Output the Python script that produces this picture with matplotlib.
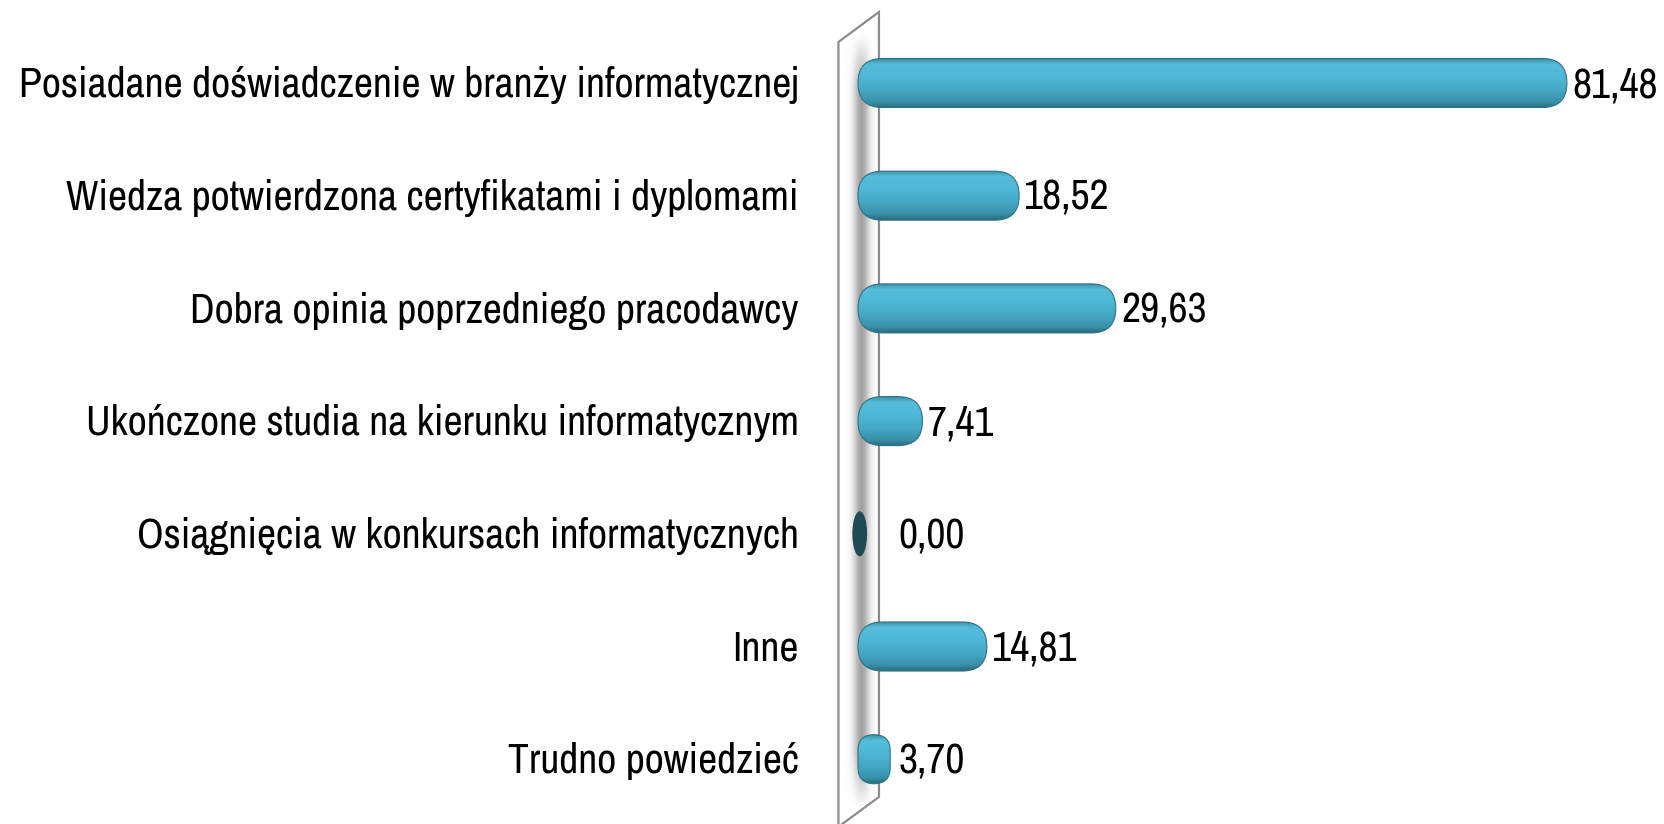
import matplotlib
matplotlib.use("Agg")
import matplotlib.pyplot as plt
import numpy as np
from matplotlib.patches import FancyBboxPatch, Ellipse, Polygon
from matplotlib.colors import LinearSegmentedColormap

plt.rcParams['font.family'] = ['Archivo Narrow', 'Roboto Condensed', 'DejaVu Sans']

# dane
kategorie = ["Posiadane doświadczenie w branży informatycznej",
             "Wiedza potwierdzona certyfikatami i dyplomami",
             "Dobra opinia poprzedniego pracodawcy",
             "Ukończone studia na kierunku informatycznym",
             "Osiągnięcia w konkursach informatycznych",
             "Inne",
             "Trudno powiedzieć"]
wartosci = [81.48, 18.52, 29.63, 7.41, 0.00, 14.81, 3.70]
etykiety = ["81,48", "18,52", "29,63", "7,41", "0,00", "14,81", "3,70"]

W, H = 1664, 824
fig = plt.figure(figsize=(W / 100, H / 100), dpi=100)
ax = fig.add_axes([0, 0, 1, 1])
ax.set_axis_off()

# skala: px = 858 + 8.70*v ; py = 83 + 112.7*i
sx, x0 = 8.70, 858
sy, y0 = 112.7, 83
xmin, xmax = -x0 / sx, (W - x0) / sx
ymin, ymax = (H - y0) / sy, -y0 / sy

# sciana
sciana = [(-2.25, -0.364), (2.41, -0.63), (2.41, 6.335), (-2.25, 6.60)]
wall = Polygon(sciana, closed=True, facecolor="white", edgecolor="#8c8c8c",
               lw=1.6, zorder=1)
ax.add_patch(wall)

# cien na scianie
xs = np.linspace(-2.3, 2.5, 120)
ys = np.linspace(-0.7, 6.7, 200)
gx = np.exp(-((xs - 0.4) / 0.9) ** 2)
gy = np.clip((ys + 0.45) / 0.5, 0, 1) * np.clip((6.45 - ys) / 0.5, 0, 1)
alpha = np.outer(gy, gx) * 0.7
img = np.zeros((len(ys), len(xs), 4))
img[..., :3] = 0.48
img[..., 3] = alpha
sh = ax.imshow(img, extent=[xs[0], xs[-1], ys[-1], ys[0]], origin="upper",
               aspect="auto", zorder=2, interpolation="bilinear")
sh.set_clip_path(wall)

cmap = LinearSegmentedColormap.from_list("bar", [
    (0.0, "#3a8aa0"), (0.12, "#55bcda"), (0.35, "#50b8d7"),
    (0.65, "#45a8c5"), (0.88, "#3990a9"), (1.0, "#2b6c7e")])
grad = np.linspace(0, 1, 100).reshape(-1, 1)

h = 0.435
asp = sx / sy
fs = 30
teksty = []
for i, (v, lab) in enumerate(zip(wartosci, etykiety)):
    if v <= 0:
        ax.add_patch(Ellipse((0.2, i), 1.7, 0.40, facecolor="#1f4a56",
                             edgecolor="none", zorder=4))
    else:
        r = min(2.8, v / 2)
        p = FancyBboxPatch((0, i - h / 2), v, h,
                           boxstyle=f"round,pad=0,rounding_size={r}",
                           mutation_aspect=asp, facecolor="none",
                           edgecolor="#2f7385", lw=0.8, zorder=5)
        ax.add_patch(p)
        im = ax.imshow(grad, extent=[0, v, i + h / 2, i - h / 2], origin="upper",
                       cmap=cmap, aspect="auto", zorder=4, interpolation="bilinear")
        im.set_clip_path(p)
    t = ax.text(max(v, 4.0) + 0.6, i + 0.02, lab, ha="left", va="center",
                fontsize=fs, color="black", zorder=6)
    teksty.append(t)

for i, k in enumerate(kategorie):
    t = ax.text(-6.8, i + 0.02, k, ha="right", va="center", fontsize=fs,
                color="black", zorder=6)
    teksty.append(t)

ax.set_xlim(xmin, xmax)
ax.set_ylim(ymin, ymax)

# dopasowanie rozmiaru czcionki do szerokosci najdluzszego opisu (~782 px)
fig.canvas.draw()
w0 = teksty[len(wartosci)].get_window_extent().width
nowy = fs * 782 / w0
for t in teksty:
    t.set_fontsize(nowy)

fig.savefig("out.png", dpi=100)
